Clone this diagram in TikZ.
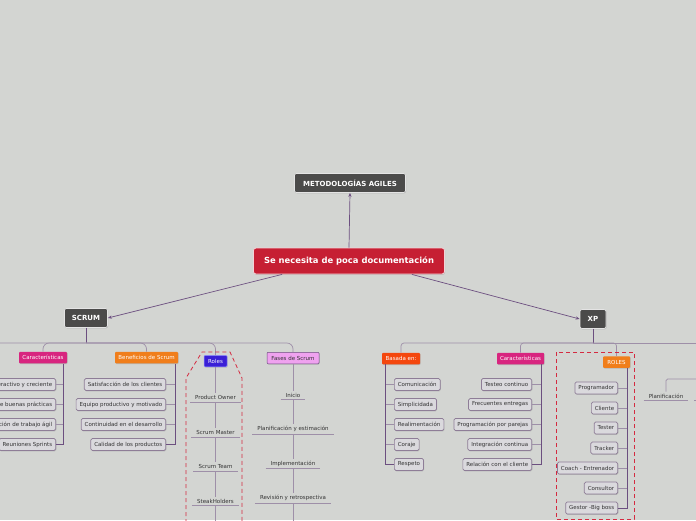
\documentclass[tikz,border=0pt]{standalone}
\usepackage{fontspec}
\setmainfont{DejaVu Sans}
\usetikzlibrary{arrows.meta,shadows,calc}
\definecolor{bg}{HTML}{D3D5D2}
\definecolor{dk}{HTML}{4B4B4A}
\definecolor{cred}{HTML}{C61F33}
\definecolor{lk}{HTML}{6C4F80}
\definecolor{sb}{HTML}{9E8FA8}
\definecolor{ib}{HTML}{8E7D97}
\definecolor{itf}{HTML}{DAD9DD}
\definecolor{tx}{HTML}{333333}
\definecolor{pk}{HTML}{D8257F}
\definecolor{og}{HTML}{F07E1B}
\definecolor{bl}{HTML}{3A1FD6}
\definecolor{vi}{HTML}{EFA2EF}
\definecolor{rdo}{HTML}{F4470E}
\definecolor{dsh}{HTML}{D42A40}
\newcommand{\fnt}{\fontsize{5.5}{6.5}\selectfont}
\tikzset{
  arr/.style={draw=lk, line width=0.7pt, -{Stealth[length=4pt,width=3.2pt]}},
  lnk/.style={draw=lk, line width=0.7pt},
  sub/.style={draw=sb, line width=0.7pt},
  itembox/.style={draw=ib, fill=itf, rounded corners=1.5pt, line width=0.7pt, font=\fnt, inner xsep=3.5pt, inner ysep=0pt, minimum height=12pt, text=tx,
     drop shadow={shadow xshift=0.6pt, shadow yshift=-0.8pt, opacity=0.35}},
  cat/.style={rounded corners=1pt, minimum height=11.5pt, inner xsep=3pt, inner ysep=0pt, font=\fnt, text=white,
     drop shadow={shadow xshift=0.6pt, shadow yshift=-0.8pt, opacity=0.35}},
  bigbox/.style={fill=dk, draw=white!85!dk, line width=0.7pt, rounded corners=2pt, text=white, font=\fontsize{7}{8}\selectfont\bfseries,
     drop shadow={shadow xshift=0.6pt, shadow yshift=-0.8pt, opacity=0.35}},
  plain/.style={font=\fnt, text=tx, inner xsep=5pt, inner ysep=2pt, anchor=south},
  uline/.style={draw=sb, line width=0.9pt},
  frame/.style={draw=dsh, line width=0.8pt, dash pattern=on 4pt off 3pt},
}
\begin{document}
\begin{tikzpicture}[x=1pt,y=-1pt]
\useasboundingbox[fill=bg] (0,0) rectangle (696,520);

% top nodes
\node[bigbox, minimum width=111pt, minimum height=19pt] (meta) at (350,183) {METODOLOGÍAS AGILES};
\node[fill=cred, draw=white!80!cred, line width=0.8pt, rounded corners=2.5pt, text=white, font=\fontsize{8.4}{10}\selectfont\bfseries,
      minimum width=191pt, minimum height=26pt, drop shadow={shadow xshift=0.6pt, shadow yshift=-0.8pt, opacity=0.35}] (central) at (349,261) {Se necesita de poca documentación};
\node[bigbox, minimum width=43pt, minimum height=19pt] (scrum) at (86,318) {SCRUM};
\node[bigbox, minimum width=26pt, minimum height=19pt] (xp) at (593,319) {XP};

\draw[arr] (central.north) -- (meta.south);
\draw[arr] ([xshift=29pt]central.south west) -- (scrum.east);
\draw[arr] ([xshift=-33pt]central.south east) -- (xp.west);

% ---------- SCRUM ----------
\node[cat, fill=pk, minimum width=48pt] (car) at (43,357.5) {Características};
\node[cat, fill=og, minimum width=63pt] (ben) at (146.5,357.5) {Beneficios de Scrum};
\node[cat, fill=bl, draw=blue!40!white, line width=0.5pt, minimum width=23pt] (roles) at (215.5,361) {Roles};
\node[cat, fill=vi, draw=lk, line width=0.5pt, text=tx, minimum width=52pt] (fases) at (293,358) {Fases de Scrum};

\coordinate (sh) at (86,343);
\coordinate (scrumL) at (-10,343);
\draw[lnk] (scrum.south) -- (sh);
\draw[sub, rounded corners=6pt] (scrumL) -| (fases.north);
\draw[sub, rounded corners=6pt] (sh) -| (car.north);
\draw[sub, rounded corners=6pt] (sh) -| (ben.north);
\draw[sub, rounded corners=6pt] (sh) -| (roles.north);

% Caracteristicas items
\node[itembox, anchor=east] (c1) at (56,384.5) {Interactivo y creciente};
\node[itembox, anchor=east] (c2) at (56,404.5) {Conjunto de buenas prácticas};
\node[itembox, anchor=east] (c3) at (56,424.5) {Organización de trabajo ágil};
\node[itembox, anchor=east] (c4) at (56,444.5) {Reuniones Sprints};
\coordinate (carbus) at (63,363.5);
\draw[lnk] (carbus) |- (c4.east);
\foreach \n in {c1,c2,c3} \draw[sub] (\n.east) -- (\n.east -| carbus);

% Beneficios items
\node[itembox, anchor=east] (b1) at (166,384.5) {Satisfacción de los clientes};
\node[itembox, anchor=east] (b2) at (166,404.5) {Equipo productivo y motivado};
\node[itembox, anchor=east] (b3) at (166,424.5) {Continuidad en el desarrollo};
\node[itembox, anchor=east] (b4) at (166,444.5) {Calidad de los productos};
\coordinate (benbus) at (175,363.5);
\draw[lnk] (benbus) |- (b4.east);
\foreach \n in {b1,b2,b3} \draw[sub] (\n.east) -- (\n.east -| benbus);

% Roles items
\node[plain] (r1) at (215.5,402) {Product Owner};
\node[plain] (r2) at (215.5,437) {Scrum Master};
\node[plain] (r3) at (215.5,471) {Scrum Team};
\node[plain] (r4) at (215.5,505.5) {SteakHolders};
\coordinate (rolesEnd) at (215.5,530);
\foreach \n in {r1,r2,r3,r4} \draw[uline] (\n.south west) -- (\n.south east);
\draw[sub] (roles.south) -- (r1.north);
\draw[sub] (r1.south) -- (r2.north);
\draw[sub] (r2.south) -- (r3.north);
\draw[sub] (r3.south) -- (r4.north);
\draw[sub] (r4.south) -- (rolesEnd);
\draw[frame] (186,530) -- (186,378) -- (202,352) -- (230,352) -- (242,378) -- (242,530);

% Fases items
\node[plain] (f1) at (293,399.5) {Inicio};
\node[plain] (f2) at (293,434) {Planificación y estimación};
\node[plain] (f3) at (293,468.5) {Implementación};
\node[plain] (f4) at (293,503) {Revisión y retrospectiva};
\coordinate (fasesEnd) at (293,530);
\foreach \n in {f1,f2,f3,f4} \draw[uline] (\n.south west) -- (\n.south east);
\draw[sub] (fases.south) -- (f1.north);
\draw[sub] (f1.south) -- (f2.north);
\draw[sub] (f2.south) -- (f3.north);
\draw[sub] (f3.south) -- (f4.north);
\draw[sub] (f4.south) -- (fasesEnd);

% ---------- XP ----------
\node[cat, fill=rdo, minimum width=38pt] (bas) at (401,358.5) {Basada en:};
\node[cat, fill=pk, minimum width=47pt] (carx) at (520.5,358.5) {Características};
\node[cat, fill=og, minimum width=27pt] (rolx) at (616.5,362) {ROLES};

\coordinate (xh) at (593,343);
\coordinate (xR) at (710,343);
\draw[lnk] (xp.south) -- (xh);
\draw[sub, rounded corners=3pt] (xh) -| (bas.north);
\draw[sub, rounded corners=3pt] (xh) -| (carx.north);
\draw[sub, rounded corners=3pt] (xh) -| (rolx.north);
\draw[sub] (xh) -- (xR);

% Basada items
\node[itembox, anchor=west] (a1) at (394,384.5) {Comunicación};
\node[itembox, anchor=west] (a2) at (394,404.5) {Simplicidada};
\node[itembox, anchor=west] (a3) at (394,424.5) {Realimentación};
\node[itembox, anchor=west] (a4) at (394,444.5) {Coraje};
\node[itembox, anchor=west] (a5) at (394,464.5) {Respeto};
\coordinate (basbus) at (385.5,364);
\draw[lnk] (basbus) |- (a5.west);
\foreach \n in {a1,a2,a3,a4} \draw[sub] (\n.west) -- (\n.west -| basbus);

% Caracteristicas XP items
\node[itembox, anchor=east] (x1) at (532,384.5) {Testeo continuo};
\node[itembox, anchor=east] (x2) at (532,404.5) {Frecuentes entregas};
\node[itembox, anchor=east] (x3) at (532,424.5) {Programación por parejas};
\node[itembox, anchor=east] (x4) at (532,444.5) {Integración continua};
\node[itembox, anchor=east] (x5) at (532,464.5) {Relación con el cliente};
\coordinate (carxbus) at (541,364);
\draw[lnk] (carxbus) |- (x5.east);
\foreach \n in {x1,x2,x3,x4} \draw[sub] (\n.east) -- (\n.east -| carxbus);

% ROLES items
\node[itembox, anchor=east] (p1) at (618,388) {Programador};
\node[itembox, anchor=east] (p2) at (618,408) {Cliente};
\node[itembox, anchor=east] (p3) at (618,428) {Tester};
\node[itembox, anchor=east] (p4) at (618,448) {Tracker};
\node[itembox, anchor=east] (p5) at (618,468) {Coach - Entrenador};
\node[itembox, anchor=east] (p6) at (618,488) {Consultor};
\node[itembox, anchor=east] (p7) at (618,508) {Gestor -Big boss};
\coordinate (rolxbus) at (627,368);
\draw[lnk] (rolxbus) |- (p7.east);
\foreach \n in {p1,p2,p3,p4,p5,p6} \draw[sub] (\n.east) -- (\n.east -| rolxbus);
\draw[frame] (556,352) rectangle (634,519);

% Planificacion (right)
\node[plain] (plan) at (666,400.5) {Planificación};
\draw[uline] (plan.south west) -- (plan.south east);
\coordinate (planR) at (710,379);
\draw[sub, rounded corners=1.5pt] (plan.north) |- (planR);
\coordinate (nxA) at (694,400.5);
\coordinate (nxB) at (712,400.5);
\draw[uline] (nxA) -- (nxB);
\end{tikzpicture}
\end{document}
